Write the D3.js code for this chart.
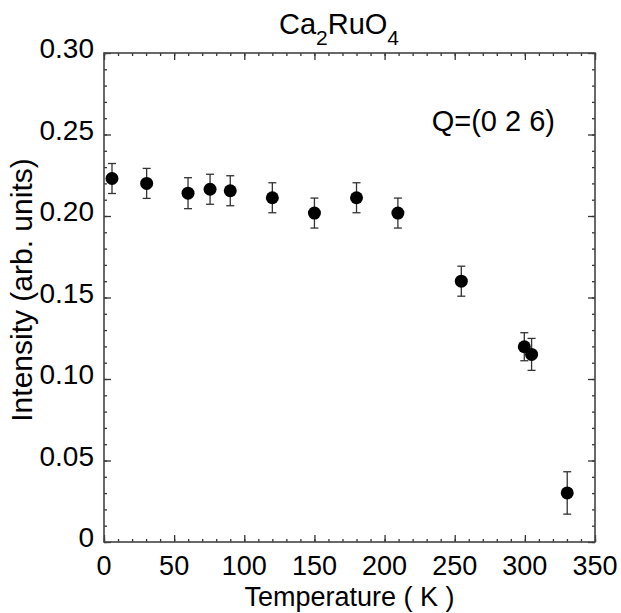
<!DOCTYPE html>
<html>
<head>
<meta charset="utf-8">
<script src="https://cdn.jsdelivr.net/npm/d3@7"></script>
<style>
  body { margin: 0; background: #fff; }
  svg { display: block; font-family: "Liberation Sans", Arial, sans-serif; }
</style>
</head>
<body>
<svg id="chart" width="621" height="613"></svg>
<script>
// data
const temperature = [5.7, 30.4, 59.9, 75.6, 90, 120, 150, 180, 209.5, 254.7, 299.6, 304.8, 330.2];
const intensity = [0.223, 0.220, 0.214, 0.2164, 0.2155, 0.2112, 0.2018, 0.2112, 0.2018, 0.160, 0.1198, 0.1151, 0.0301];
const errors = [0.0092, 0.0092, 0.0095, 0.0092, 0.0092, 0.0092, 0.0092, 0.0092, 0.0092, 0.0092, 0.0086, 0.0098, 0.013];
const xTicks = [0, 50, 100, 150, 200, 250, 300, 350];
const yTicks = [0, 0.05, 0.10, 0.15, 0.20, 0.25, 0.30];
const yTickLabels = ["0", "0.05", "0.10", "0.15", "0.20", "0.25", "0.30"];

const M = { left: 104, right: 595, top: 53, bottom: 542 };
const INK = "#333";

const svg = d3.select("#chart");

const x = d3.scaleLinear().domain([0, 350]).range([M.left, M.right]);
const y = d3.scaleLinear().domain([0, 0.30]).range([M.bottom, M.top]);

const xMinor = d3.range(0, 351, 10);
const yMinor = d3.range(0, 0.3001, 0.01);

// ticks drawn inward on all four sides
function tickSet(axis, scale, values, len) {
  return axis(scale).tickValues(values).tickSizeInner(len).tickSizeOuter(0).tickFormat("");
}

const g = svg.append("g").attr("stroke", INK);

g.append("g").attr("transform", `translate(0,${M.bottom})`)
  .call(tickSet(d3.axisTop, x, xMinor, 3));
g.append("g").attr("transform", `translate(0,${M.bottom})`)
  .call(tickSet(d3.axisTop, x, xTicks, 7));
g.append("g").attr("transform", `translate(0,${M.top})`)
  .call(tickSet(d3.axisBottom, x, xMinor, 3));
g.append("g").attr("transform", `translate(0,${M.top})`)
  .call(tickSet(d3.axisBottom, x, xTicks, 7));
g.append("g").attr("transform", `translate(${M.left},0)`)
  .call(tickSet(d3.axisRight, y, yMinor, 3));
g.append("g").attr("transform", `translate(${M.left},0)`)
  .call(tickSet(d3.axisRight, y, yTicks, 7));
g.append("g").attr("transform", `translate(${M.right},0)`)
  .call(tickSet(d3.axisLeft, y, yMinor, 3));
g.append("g").attr("transform", `translate(${M.right},0)`)
  .call(tickSet(d3.axisLeft, y, yTicks, 7));

g.selectAll(".domain").remove();
g.selectAll(".tick line").attr("stroke", INK).attr("stroke-width", 1.3);

svg.append("rect")
  .attr("x", M.left).attr("y", M.top)
  .attr("width", M.right - M.left).attr("height", M.bottom - M.top)
  .attr("fill", "none").attr("stroke", "#444").attr("stroke-width", 1.6);

// tick labels
svg.append("g").selectAll("text")
  .data(xTicks)
  .join("text")
  .attr("x", d => x(d))
  .attr("y", M.bottom + 33)
  .attr("text-anchor", "middle")
  .attr("font-size", 27)
  .text(d => d);

svg.append("g").selectAll("text")
  .data(yTicks)
  .join("text")
  .attr("x", M.left - 10)
  .attr("y", d => y(d) + 5)
  .attr("text-anchor", "end")
  .attr("font-size", 28)
  .text((d, i) => yTickLabels[i]);

// axis titles
svg.append("text")
  .attr("x", (M.left + M.right) / 2)
  .attr("y", 606)
  .attr("text-anchor", "middle")
  .attr("font-size", 27)
  .text("Temperature ( K )");

svg.append("text")
  .attr("transform", `translate(32,290) rotate(-90)`)
  .attr("text-anchor", "middle")
  .attr("font-size", 30)
  .text("Intensity (arb. units)");

// title with subscripts
const title = svg.append("text")
  .attr("x", 339)
  .attr("y", 34)
  .attr("text-anchor", "middle")
  .attr("font-size", 29);
title.append("tspan").text("Ca");
title.append("tspan").attr("font-size", 21).attr("dy", 11).text("2");
title.append("tspan").attr("dy", -11).text("RuO");
title.append("tspan").attr("font-size", 21).attr("dy", 11).text("4");

svg.append("text")
  .attr("x", 555)
  .attr("y", 131)
  .attr("text-anchor", "end")
  .attr("font-size", 29)
  .text("Q=(0 2 6)");

// error bars and points
const pts = temperature.map((t, i) => ({ t, v: intensity[i], e: errors[i] }));

const eb = svg.append("g").attr("stroke", "#333").attr("stroke-width", 1.3);
eb.selectAll("line.bar")
  .data(pts)
  .join("line")
  .attr("class", "bar")
  .attr("x1", d => x(d.t)).attr("x2", d => x(d.t))
  .attr("y1", d => y(d.v - d.e)).attr("y2", d => y(d.v + d.e));
eb.selectAll("line.capTop")
  .data(pts)
  .join("line")
  .attr("class", "capTop")
  .attr("x1", d => x(d.t) - 4).attr("x2", d => x(d.t) + 4)
  .attr("y1", d => y(d.v + d.e)).attr("y2", d => y(d.v + d.e));
eb.selectAll("line.capBot")
  .data(pts)
  .join("line")
  .attr("class", "capBot")
  .attr("x1", d => x(d.t) - 4).attr("x2", d => x(d.t) + 4)
  .attr("y1", d => y(d.v - d.e)).attr("y2", d => y(d.v - d.e));

svg.append("g").selectAll("circle")
  .data(pts)
  .join("circle")
  .attr("cx", d => x(d.t))
  .attr("cy", d => y(d.v))
  .attr("r", 6.5)
  .attr("fill", "#000");
</script>
</body>
</html>
